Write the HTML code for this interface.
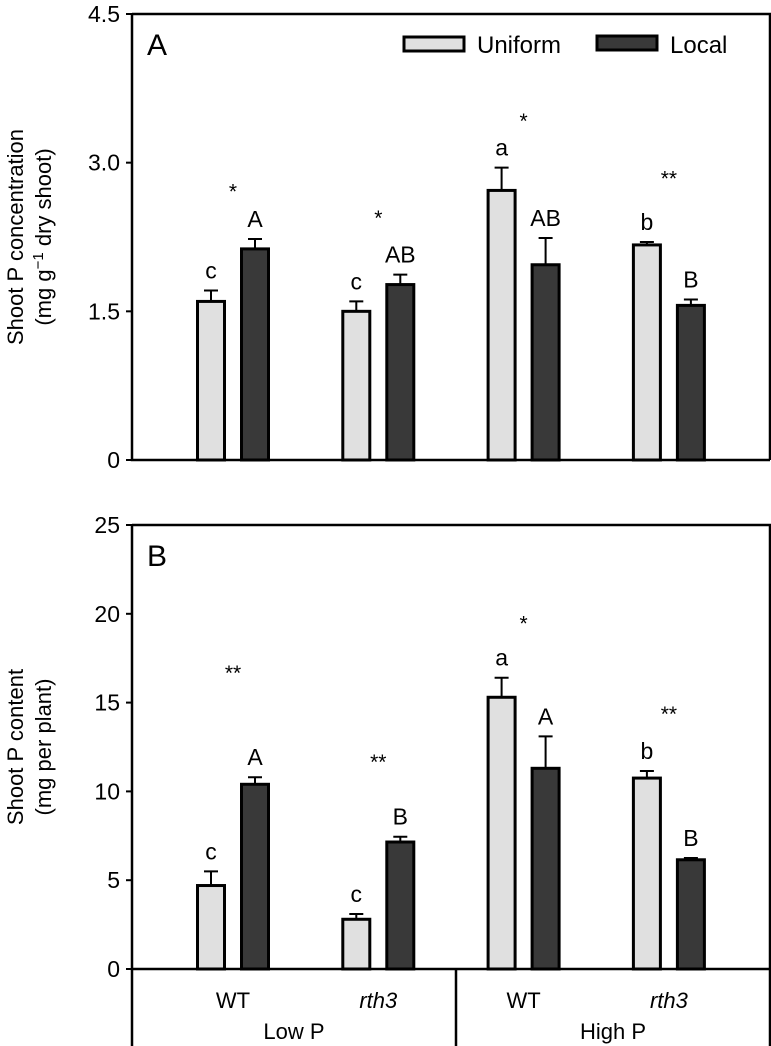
<!DOCTYPE html>
<html><head><meta charset="utf-8"><style>
html,body{margin:0;padding:0;background:#fff}
svg{display:block;font-family:"Liberation Sans",Arial,sans-serif}
</style></head><body>
<svg id="chart" width="771" height="1046" viewBox="0 0 771 1046" xmlns="http://www.w3.org/2000/svg"></svg>
<script>
const groups = ['WT-Low','rth3-Low','WT-High','rth3-High'];
const topUniform = [1.60, 1.50, 2.72, 2.17];
const topUniformErr = [0.11, 0.10, 0.23, 0.03];
const topLocal = [2.13, 1.77, 1.97, 1.56];
const topLocalErr = [0.10, 0.10, 0.27, 0.06];
const topULetters = ['c','c','a','b'];
const topLLetters = ['A','AB','AB','B'];
const topStars = ['*','*','*','**'];
const topStarVal = [2.77, 2.50, 3.48, 2.90];
const topTicks = [0, 1.5, 3.0, 4.5];
const topTickLabels = ['0','1.5','3.0','4.5'];
const botUniform = [4.7, 2.8, 15.3, 10.75];
const botUniformErr = [0.8, 0.3, 1.1, 0.4];
const botLocal = [10.4, 7.15, 11.3, 6.15];
const botLocalErr = [0.4, 0.3, 1.8, 0.1];
const botULetters = ['c','c','a','b'];
const botLLetters = ['A','B','A','B'];
const botStars = ['**','**','*','**'];
const botStarVal = [17.0, 12.0, 19.8, 14.7];
const botTicks = [0,5,10,15,20,25];
const botTickLabels = ['0','5','10','15','20','25'];

const NS='http://www.w3.org/2000/svg';
const svg=document.getElementById('chart');
function mk(tag,attrs,parent){const e=document.createElementNS(NS,tag);for(const k in attrs)e.setAttribute(k,attrs[k]);(parent||svg).appendChild(e);return e;}
const X0=132,X1=770;
const groupCenter=i=>233+i*145.3;

function panel(cfg){
  const g=mk('g',{});
  
  
  const y=v=>cfg.y0-(v-cfg.min)/(cfg.max-cfg.min)*(cfg.y0-cfg.y1);
  const fr=mk('path',{d:`M${X0},${cfg.y1} H${X1} V${cfg.y0} M${X0},${cfg.y1} V${cfg.y0} H${X1}`,fill:'none',stroke:'#000','stroke-width':2.5},g);
  
  
  cfg.ticks.forEach((t,i)=>{
    const tk=mk('line',{x1:X0-6,x2:X0,y1:y(t),y2:y(t),stroke:'#000','stroke-width':2},g);
    
    
    const tl=mk('text',{x:X0-12,y:y(t)+8,'text-anchor':'end','font-size':23},g);
    tl.textContent=cfg.tickLabels[i];
    
    
  });
  const bw=27;
  function bar(cx,v,e,fill,letter,nm){
    const top=y(v);
    const eb=mk('path',{d:`M${cx},${top} V${y(v+e)} M${cx-7},${y(v+e)} H${cx+7}`,stroke:'#000','stroke-width':2,fill:'none'},g);
    
    
    const r=mk('rect',{x:cx-bw/2,y:top,width:bw,height:cfg.y0-top,fill:fill,stroke:'#000','stroke-width':3},g);
    
    
    const lt=mk('text',{x:cx,y:y(v+e)-12,'text-anchor':'middle','font-size':23},g);
    lt.textContent=letter;
    
    
  }
  groups.forEach((gn,i)=>{
    const c=groupCenter(i);
    bar(c-22,cfg.u[i],cfg.ue[i],'#e0e0e0',cfg.ul[i],'uniform');
    bar(c+22,cfg.l[i],cfg.le[i],'#393939',cfg.ll[i],'local');
    const st=mk('text',{x:c,y:y(cfg.sv[i])+13,'text-anchor':'middle','font-size':21},g);
    st.textContent=cfg.stars[i];
    
    
  });
  const pl=mk('text',{x:147,y:cfg.y1+41,'font-size':30},g);
  pl.textContent=cfg.label;
  
  
  const cy=(cfg.y0+cfg.y1)/2;
  cfg.title.forEach((t,k)=>{
    const tt=mk('text',{x:0,y:0,'text-anchor':'middle','font-size':22,transform:`translate(${23+k*28},${cy}) rotate(-90)`},g);
    tt.innerHTML=t;
    
    
  });
}
panel({name:'panel-a',y0:460,y1:14,min:0,max:4.5,ticks:topTicks,tickLabels:topTickLabels,u:topUniform,ue:topUniformErr,l:topLocal,le:topLocalErr,ul:topULetters,ll:topLLetters,stars:topStars,sv:topStarVal,label:'A',title:['Shoot P concentration','(mg g<tspan baseline-shift="super" font-size="15">−1</tspan> dry shoot)']});
panel({name:'panel-b',y0:969,y1:525,min:0,max:25,ticks:botTicks,tickLabels:botTickLabels,u:botUniform,ue:botUniformErr,l:botLocal,le:botLocalErr,ul:botULetters,ll:botLLetters,stars:botStars,sv:botStarVal,label:'B',title:['Shoot P content','(mg per plant)']});

const lg=mk('g',{});


const l1=mk('rect',{x:404,y:37,width:60,height:14,fill:'#e0e0e0',stroke:'#000','stroke-width':3},lg);


const lt1=mk('text',{x:477,y:53,'font-size':24},lg);lt1.textContent='Uniform';


const l2=mk('rect',{x:597,y:36,width:60,height:14,fill:'#393939',stroke:'#000','stroke-width':3},lg);


const lt2=mk('text',{x:670,y:53,'font-size':24},lg);lt2.textContent='Local';



const ca=mk('path',{d:'M132,969 V1046 M456,969 V1046 M770,969 V1046',stroke:'#000','stroke-width':2.5,fill:'none'});


const genos=['WT','rth3','WT','rth3'];
genos.forEach((t,i)=>{
  const e=mk('text',{x:groupCenter(i),y:1008,'text-anchor':'middle','font-size':22,'font-style':t==='WT'?'normal':'italic'});
  e.textContent=t;
  
  
});
['Low P','High P'].forEach((t,i)=>{
  const e=mk('text',{x:i?613:294,y:1039,'text-anchor':'middle','font-size':22});
  e.textContent=t;
  
  
});
</script>
</body></html>
